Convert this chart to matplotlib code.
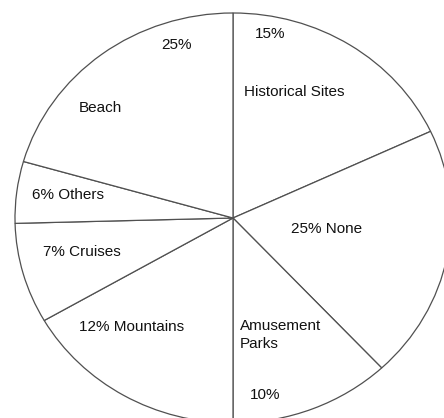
import matplotlib.pyplot as plt

# wedge sizes as drawn (degrees, clockwise from the top)
categories = ['Historical Sites', 'None', 'Amusement Parks', 'Mountains',
              'Cruises', 'Others', 'Beach']
shares = [65, 72, 43, 60, 28.5, 17.5, 74]

# text labels as printed on the chart, with their pixel centres
label_texts = ['15%', 'Historical Sites', '25% None', 'Amusement\nParks', '10%',
               '12% Mountains', '7% Cruises', '6% Others', 'Beach', '25%']
label_px = [(270, 34), (244, 92), (327, 229), (240, 335), (265, 395),
            (132, 327), (82, 252), (68, 195), (100, 108), (177, 45)]
label_ha = ['center', 'left', 'center', 'left', 'center',
            'center', 'center', 'center', 'center', 'center']

W, H = 444, 418
fig = plt.figure(figsize=(W / 100, H / 100), dpi=100)
ax = fig.add_axes([0, 0, 1, 1])

ax.pie(shares, startangle=90, counterclock=False, radius=1,
       colors=['white'] * len(shares),
       wedgeprops=dict(edgecolor='#505050', linewidth=0.9))

# hub at pixel (233, 218), slightly wider than tall
cx, cy, rx, ry = 233, 218, 218, 205
ax.set_aspect('auto')
ax.set_xlim(-cx / rx, (W - cx) / rx)
ax.set_ylim(-(H - cy) / ry, cy / ry)
ax.axis('off')

for txt, (px, py), ha in zip(label_texts, label_px, label_ha):
    fig.text(px / W, 1 - py / H, txt, ha=ha, va='center', fontsize=11,
             family='Liberation Sans', color='#111111', linespacing=1.3)

fig.savefig('out.png', dpi=100)
